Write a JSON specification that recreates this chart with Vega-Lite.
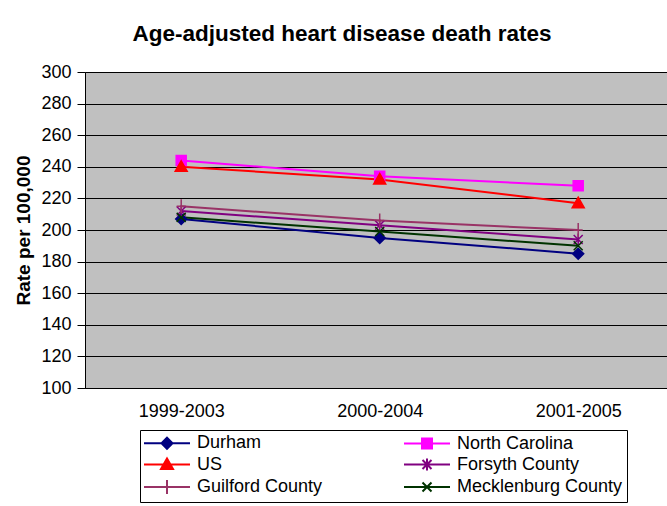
{
  "$schema": "https://vega.github.io/schema/vega-lite/v6.json",
  "autosize": "none",
  "width": 582,
  "height": 316,
  "padding": {"left": 85, "top": 72, "right": 0, "bottom": 118},
  "background": "white",
  "title": {
    "text": "Age-adjusted heart disease death rates",
    "font": "Liberation Sans",
    "fontSize": 22.5,
    "fontWeight": "bold",
    "color": "black",
    "anchor": "middle",
    "frame": "group",
    "dx": -34,
    "offset": 0,
    "baseline": "alphabetic"
  },
  "config": {
    "view": {"fill": "#C0C0C0", "stroke": "#808080", "strokeWidth": 1},
    "font": "Liberation Sans",
    "axis": {
      "labelFont": "Liberation Sans",
      "labelFontSize": 18,
      "labelColor": "black",
      "titleFont": "Liberation Sans",
      "titleColor": "black",
      "domainColor": "black",
      "tickColor": "black",
      "gridColor": "black",
      "gridOpacity": 1,
      "gridWidth": 1
    },
    "legend": {
      "labelFont": "Liberation Sans",
      "labelFontSize": 18,
      "labelColor": "black",
      "labelLimit": 400
    }
  },
  "data": {
    "values": [
      {"period": "1999-2003", "series": "Durham", "rate": 207},
      {"period": "2000-2004", "series": "Durham", "rate": 195},
      {"period": "2001-2005", "series": "Durham", "rate": 185},
      {"period": "1999-2003", "series": "North Carolina", "rate": 244},
      {"period": "2000-2004", "series": "North Carolina", "rate": 234},
      {"period": "2001-2005", "series": "North Carolina", "rate": 228},
      {"period": "1999-2003", "series": "US", "rate": 240},
      {"period": "2000-2004", "series": "US", "rate": 232},
      {"period": "2001-2005", "series": "US", "rate": 217},
      {"period": "1999-2003", "series": "Forsyth County", "rate": 212},
      {"period": "2000-2004", "series": "Forsyth County", "rate": 203},
      {"period": "2001-2005", "series": "Forsyth County", "rate": 194},
      {"period": "1999-2003", "series": "Guilford County", "rate": 215},
      {"period": "2000-2004", "series": "Guilford County", "rate": 206},
      {"period": "2001-2005", "series": "Guilford County", "rate": 200},
      {"period": "1999-2003", "series": "Mecklenburg County", "rate": 208},
      {"period": "2000-2004", "series": "Mecklenburg County", "rate": 199},
      {"period": "2001-2005", "series": "Mecklenburg County", "rate": 190}
    ]
  },
  "encoding": {
    "x": {
      "field": "period",
      "type": "ordinal",
      "scale": {"type": "point", "padding": 0.466, "align": 0.52},
      "axis": {"title": null, "labelAngle": 0, "ticks": false, "labelPadding": 14, "domainColor": "black", "grid": false}
    },
    "y": {
      "field": "rate",
      "type": "quantitative",
      "scale": {"domain": [100, 300], "nice": false, "zero": false},
      "axis": {
        "title": "Rate per 100,000",
        "titleFontSize": 19,
        "titleFontWeight": "bold",
        "titlePadding": 7,
        "values": [100, 120, 140, 160, 180, 200, 220, 240, 260, 280, 300],
        "tickSize": 8,
        "labelPadding": 6,
        "grid": true
      }
    }
  },
  "layer": [
    {
      "mark": {"type": "line", "strokeWidth": 2},
      "encoding": {
        "color": {
          "field": "series",
          "type": "nominal",
          "scale": {
            "domain": ["Durham", "US", "Guilford County", "North Carolina", "Forsyth County", "Mecklenburg County"],
            "range": ["#000080", "#FF0000", "#993366", "#FF00FF", "#800080", "#003300"]
          },
          "legend": null
        }
      }
    },
    {
      "mark": {"type": "point", "filled": true, "opacity": 1, "size": 100, "strokeWidth": 1.5},
      "encoding": {
        "color": {"field": "series", "type": "nominal", "legend": null},
        "stroke": {
          "field": "series",
          "type": "nominal",
          "scale": {
            "domain": ["Durham", "US", "Guilford County", "North Carolina", "Forsyth County", "Mecklenburg County"],
            "range": ["#000080", "#FF0000", "#993366", "#FF00FF", "#800080", "#003300"]
          },
          "legend": null
        },
        "shape": {
          "field": "series",
          "type": "nominal",
          "scale": {
            "domain": ["Durham", "US", "Guilford County", "North Carolina", "Forsyth County", "Mecklenburg County"],
            "range": [
              "M0,-1.1L1.1,0L0,1.1L-1.1,0Z",
              "M0,-1.2L1.2,0.9H-1.2Z",
              "M0,-1.4V1.4M-0.9,0H0.9",
              "M-1,-1H1V1H-1Z",
              "M-0.9,-0.9L0.9,0.9M-0.9,0.9L0.9,-0.9M0,-1.2V1.2",
              "M-0.9,-0.9L0.9,0.9M-0.9,0.9L0.9,-0.9"
            ]
          },
          "legend": null
        }
      }
    },
    {
      "transform": [{"filter": "datum.rate > 1000"}],
      "mark": {"type": "point", "filled": true, "opacity": 1, "strokeWidth": 2},
      "encoding": {
        "color": {
          "field": "series",
          "type": "nominal",
          "legend": {
            "title": "\u00a0",
            "titleOrient": "left",
            "titleFontSize": 1,
            "titlePadding": 14,
            "orient": "none",
            "legendX": 55,
            "legendY": 358,
            "columns": 2,
            "columnPadding": 77,
            "rowPadding": 1.5,
            "padding": 4,
            "strokeColor": "black",
            "fillColor": "white",
            "symbolSize": 100,
            "symbolStrokeWidth": 2,
            "labelOffset": 21
          }
        },
        "stroke": {"field": "series", "type": "nominal"},
        "shape": {
          "field": "series",
          "type": "nominal",
          "scale": {
            "domain": ["Durham", "US", "Guilford County", "North Carolina", "Forsyth County", "Mecklenburg County"],
            "range": [
              "M-4.6,0H4.6M0,-1.1L1.1,0L0,1.1L-1.1,0Z",
              "M-4.6,0H4.6M0,-1.2L1.2,0.9H-1.2Z",
              "M-4.6,0H4.6M0,-1.4V1.4",
              "M-4.6,0H4.6M-1,-1H1V1H-1Z",
              "M-4.6,0H4.6M-0.9,-0.9L0.9,0.9M-0.9,0.9L0.9,-0.9M0,-1.2V1.2",
              "M-4.6,0H4.6M-0.9,-0.9L0.9,0.9M-0.9,0.9L0.9,-0.9"
            ]
          }
        }
      }
    }
  ],
  "resolve": {
    "scale": {"shape": "independent"},
    "legend": {"color": "independent", "stroke": "independent", "shape": "independent"}
  }
}
